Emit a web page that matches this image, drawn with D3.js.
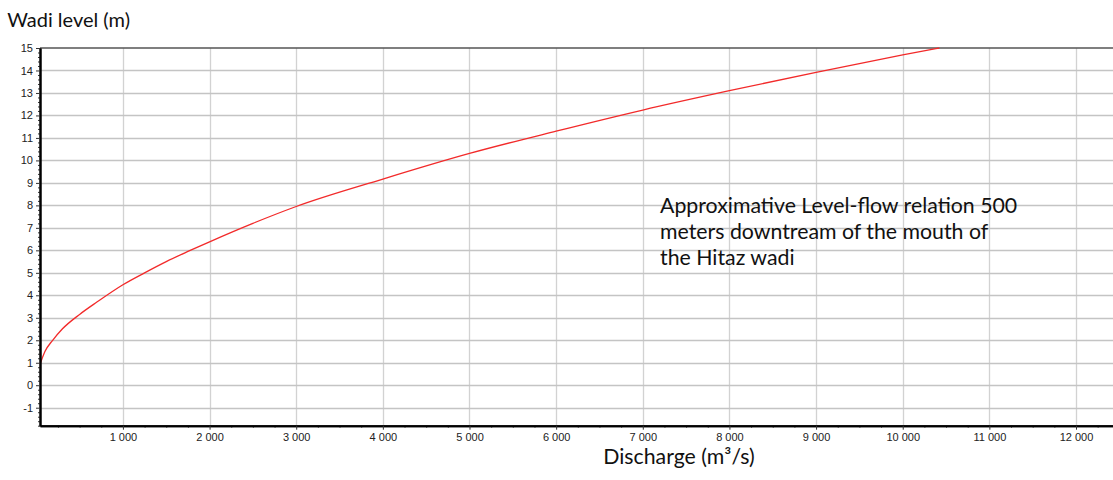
<!DOCTYPE html>
<html>
<head>
<meta charset="utf-8">
<script src="https://cdn.jsdelivr.net/npm/d3@7"></script>
<style>
  body { margin: 0; background: #fff; overflow: hidden; }
  svg { display: block; }
</style>
</head>
<body>
<div id="chart"></div>
<script>
// values
var discharge = [43, 100, 189, 300, 500, 700, 1000, 1250, 1500, 1750, 2000, 2500, 3000, 4000, 5000, 6000, 7000, 8000, 9000, 10000, 10423];
var level = [0.93, 1.5, 2.0, 2.5, 3.15, 3.7, 4.47, 5.0, 5.5, 5.95, 6.38, 7.2, 7.95, 9.17, 10.31, 11.30, 12.24, 13.10, 13.92, 14.69, 15];

var xTicks = [1000, 2000, 3000, 4000, 5000, 6000, 7000, 8000, 9000, 10000, 11000, 12000];
var yTicks = [-1, 0, 1, 2, 3, 4, 5, 6, 7, 8, 9, 10, 11, 12, 13, 14, 15];

var yTitle = 'Wadi level (m)';
var xTitle = 'Discharge (m³/s)';
var note = ['Approximative Level-flow relation 500', 'meters downtream of the mouth of', 'the Hitaz wadi'];

dim = {
    'width': 1113,
    'height': 480,
    'left': 40,
    'right': 1115,
    'top': 48,
    'bottom': 425.7
};

var fmt = d3.formatLocale({ decimal: '.', thousands: '\u00a0', grouping: [3], currency: ['', ''] }).format(',d');

var svg = d3.select('#chart').append('svg')
    .attr('width', dim.width)
    .attr('height', dim.height);

var xScale = d3.scaleLinear()
    .domain([43, 12450])
    .range([dim.left, dim.right]);
var yScale = d3.scaleLinear()
    .domain([-1.8, 15])
    .range([dim.bottom, dim.top]);

// grid
svg.append('g').selectAll('line.v')
    .data(xTicks)
    .join('line')
    .attr('x1', d => Math.round(xScale(d)) + 0.5)
    .attr('x2', d => Math.round(xScale(d)) + 0.5)
    .attr('y1', dim.top)
    .attr('y2', dim.bottom)
    .attr('stroke', '#d2d2d2')
    .attr('stroke-width', 1.3);

svg.append('g').selectAll('line.h')
    .data(yTicks.filter(d => d < 15))
    .join('line')
    .attr('x1', dim.left)
    .attr('x2', dim.right)
    .attr('y1', d => Math.round(yScale(d)) + 0.5)
    .attr('y2', d => Math.round(yScale(d)) + 0.5)
    .attr('stroke', '#c4c4c4')
    .attr('stroke-width', 1.3);

// top frame line
svg.append('line')
    .attr('x1', dim.left).attr('x2', dim.right)
    .attr('y1', dim.top).attr('y2', dim.top)
    .attr('stroke', '#555')
    .attr('stroke-width', 1.5);

// curve
var line = d3.line()
    .x((d, i) => xScale(discharge[i]))
    .y(d => yScale(d))
    .curve(d3.curveMonotoneX);

svg.append('path')
    .datum(level)
    .attr('d', line)
    .attr('fill', 'none')
    .attr('stroke', '#f22a2a')
    .attr('stroke-width', 1.3);

// axes
var xAxis = d3.axisBottom(xScale)
    .tickValues(xTicks)
    .tickFormat(fmt)
    .tickSize(4)
    .tickSizeOuter(0)
    .tickPadding(4);
var xMinor = d3.axisBottom(xScale)
    .tickValues(d3.range(250, 12450, 250).filter(d => d % 1000 != 0))
    .tickFormat('')
    .tickSize(2)
    .tickSizeOuter(0);

var yAxis = d3.axisLeft(yScale)
    .tickValues(yTicks)
    .tickFormat(d => String(d))
    .tickSize(4)
    .tickSizeOuter(0)
    .tickPadding(3);
var yMinor = d3.axisLeft(yScale)
    .tickValues(d3.range(-1.8, 15, 0.2).filter(d => Math.abs(d - Math.round(d)) > 0.05))
    .tickFormat('')
    .tickSize(2)
    .tickSizeOuter(0);

svg.append('g').attr('transform', `translate(0,${dim.bottom})`).call(xMinor);
svg.append('g').attr('id', 'bottom').attr('transform', `translate(0,${dim.bottom})`).call(xAxis);
svg.append('g').attr('transform', `translate(${dim.left},0)`).call(yMinor);
svg.append('g').attr('id', 'left').attr('transform', `translate(${dim.left},0)`).call(yAxis);

svg.selectAll('.domain').attr('stroke', '#000').attr('stroke-width', 2);
svg.selectAll('.tick line').attr('stroke', '#333');
svg.selectAll('.tick text')
    .attr('font-family', 'Liberation Sans, Arial, sans-serif')
    .attr('font-size', 11)
    .attr('fill', '#222');

// titles
svg.append('text')
    .attr('x', 130)
    .attr('y', 27)
    .attr('text-anchor', 'end')
    .attr('font-family', 'Lato, sans-serif')
    .attr('font-size', 20)
    .attr('fill', '#111')
    .text(yTitle);

svg.append('text')
    .attr('x', 679)
    .attr('y', 464)
    .attr('text-anchor', 'middle')
    .attr('font-family', 'Lato, sans-serif')
    .attr('font-size', 21.3)
    .attr('fill', '#111')
    .text(xTitle);

svg.append('g').selectAll('text')
    .data(note)
    .join('text')
    .attr('x', 660)
    .attr('y', (d, i) => 213 + i * 26)
    .attr('font-family', 'Lato, sans-serif')
    .attr('font-size', 21.3)
    .attr('fill', '#111')
    .text(d => d);
</script>
</body>
</html>
